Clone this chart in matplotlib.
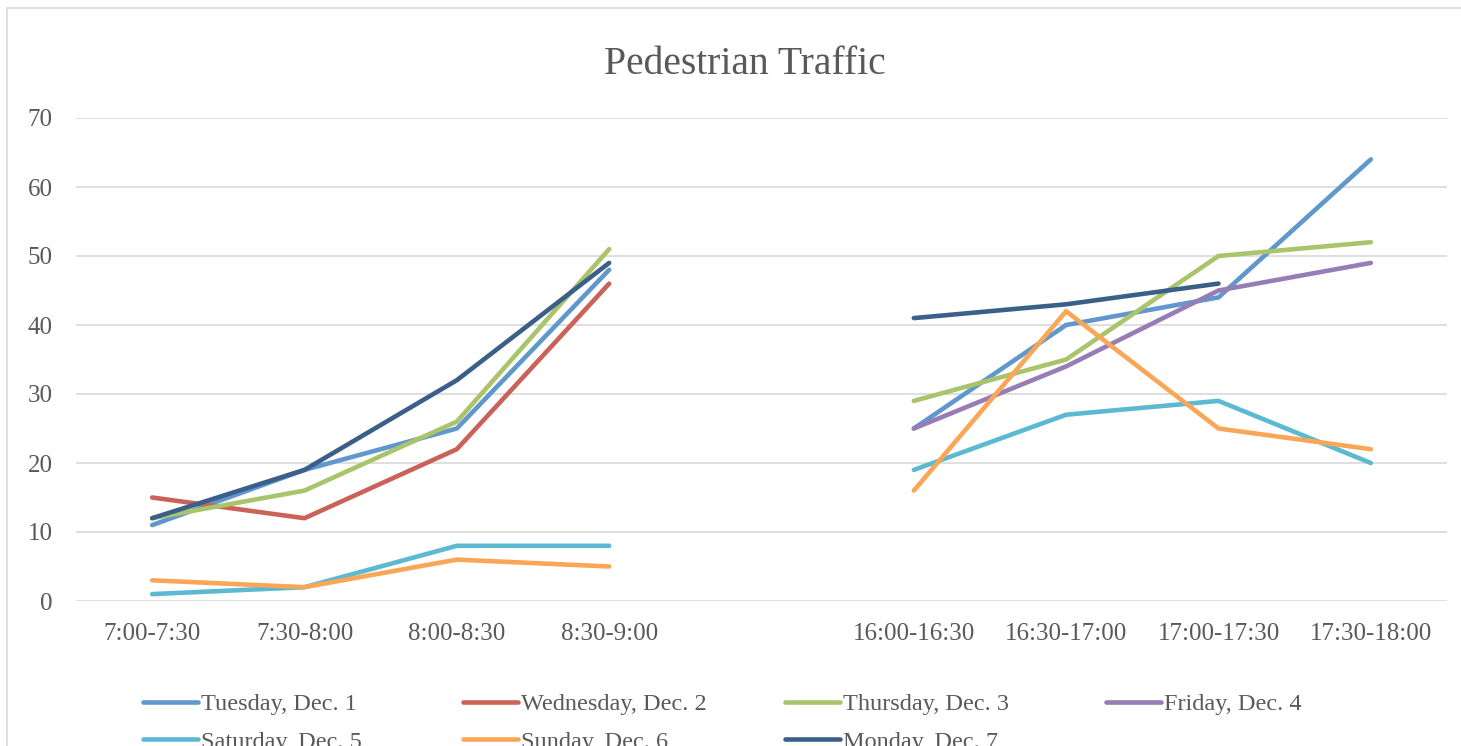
import numpy as np
import matplotlib
matplotlib.use("Agg")
import matplotlib.pyplot as plt
from matplotlib.patches import Rectangle

categories = ["7:00-7:30", "7:30-8:00", "8:00-8:30", "8:30-9:00", "",
              "16:00-16:30", "16:30-17:00", "17:00-17:30", "17:30-18:00"]
nan = np.nan
tuesday   = [11, 19, 25, 48, nan, 25, 40, 44, 64]
wednesday = [15, 12, 22, 46, nan, nan, nan, nan, nan]
thursday  = [12, 16, 26, 51, nan, 29, 35, 50, 52]
friday    = [nan, nan, nan, nan, nan, 25, 34, 45, 49]
saturday  = [1, 2, 8, 8, nan, 19, 27, 29, 20]
sunday    = [3, 2, 6, 5, nan, 16, 42, 25, 22]
monday    = [12, 19, 32, 49, nan, 41, 43, 46, nan]

series_names = ["Tuesday, Dec. 1", "Wednesday, Dec. 2", "Thursday, Dec. 3",
                "Friday, Dec. 4", "Saturday, Dec. 5", "Sunday, Dec. 6",
                "Monday, Dec. 7"]
series_values = [tuesday, wednesday, thursday, friday, saturday, sunday, monday]
colors = ["#6097CC", "#CB6259", "#A9C46A", "#967DB5", "#5BB9D2", "#F9A757", "#3A6089"]

W, H = 1461, 746
fig = plt.figure(figsize=(W / 100, H / 100), dpi=100)
fig.patches.append(Rectangle((7 / W, -0.01), 1.05, 1 - 8 / H + 0.01,
                             transform=fig.transFigure, fill=False,
                             edgecolor="#D9D9D9", linewidth=1.2))

ax = fig.add_axes([76 / W, 1 - 601 / H, (1447 - 76) / W, (601 - 118) / H])
x = np.arange(len(categories))
lines = []
for name, vals, c in zip(series_names, series_values, colors):
    ln, = ax.plot(x, vals, color=c, linewidth=3.3, solid_capstyle="round",
                  solid_joinstyle="round", label=name, zorder=3)
    lines.append(ln)

ax.set_xlim(-0.5, len(categories) - 0.5)
ax.set_ylim(0, 70)
ax.set_yticks(range(0, 71, 10))
ax.set_xticks(x)
ax.set_xticklabels(categories)
for s in ax.spines.values():
    s.set_visible(False)
ax.grid(axis="y", color="#D9D9D9", linewidth=1.2, zorder=0)
ax.set_axisbelow(True)
ax.tick_params(axis="both", length=0, labelsize=18, labelcolor="#595959")
ax.tick_params(axis="y", pad=17)
ax.tick_params(axis="x", pad=16)
for lab in ax.get_xticklabels() + ax.get_yticklabels():
    lab.set_fontfamily("Liberation Serif")

fig.text(745 / W, 1 - 64 / H, "Pedestrian Traffic", ha="center", va="center",
         fontsize=28.5, color="#595959", family="Liberation Serif")

col_x = [143, 463, 785, 1106]
for k in range(4):
    idx = [k, k + 4] if k + 4 < len(lines) else [k]
    fig.legend([lines[i] for i in idx], [series_names[i] for i in idx],
               loc="upper left", bbox_to_anchor=(col_x[k] / W, 1 - 693 / H),
               frameon=False, handlelength=2.25, handletextpad=0.15,
               borderpad=0, borderaxespad=0, labelspacing=0.65,
               prop={"family": "Liberation Serif", "size": 17.5},
               labelcolor="#595959")

fig.savefig("out.png", dpi=100)
